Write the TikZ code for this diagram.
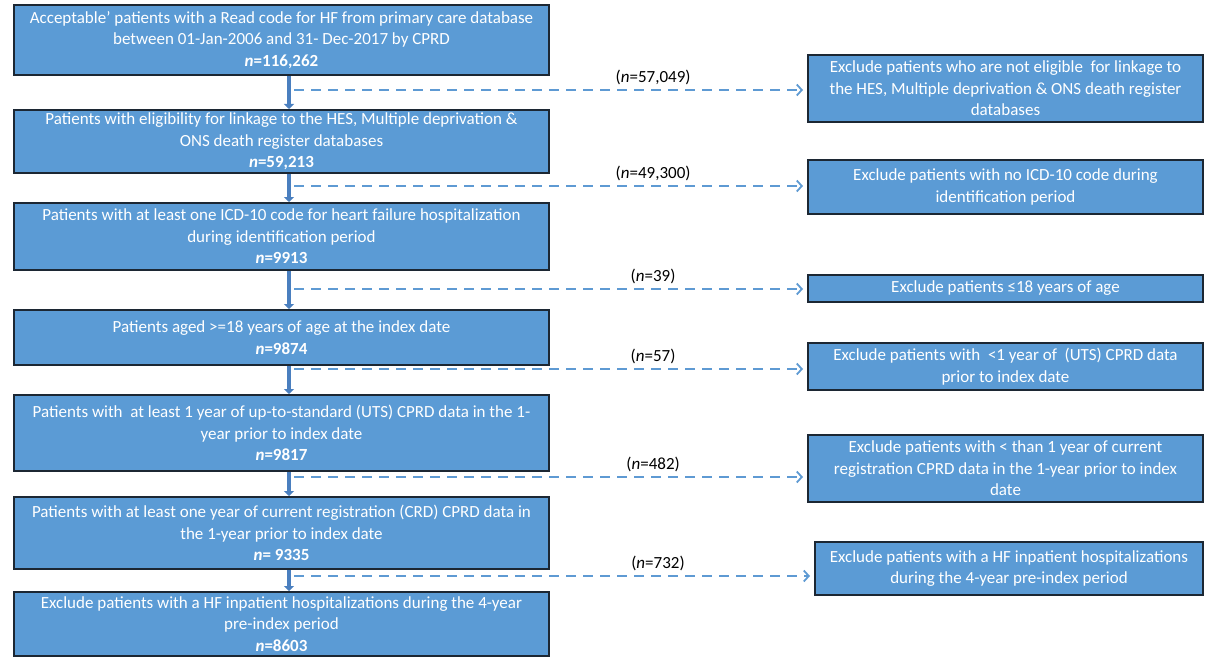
\documentclass[tikz,border=0pt]{standalone}
\usepackage{fontspec}
\setmainfont{Carlito}
\usetikzlibrary{arrows.meta}

\definecolor{boxblue}{HTML}{5B9BD5}
\definecolor{boxline}{HTML}{1C2733}
\definecolor{flowblue}{HTML}{4A7FBF}
\definecolor{dropblue}{HTML}{5E9AD3}

\tikzset{
  stagebox/.style={draw=boxline, line width=2pt, fill=boxblue, text=white,
    align=center, inner sep=0pt, font=\fontsize{17}{21.5}\selectfont},
  exclbox/.style={stagebox},
  flow/.style={draw=flowblue, line width=4pt,
    -{Triangle[width=10pt,length=5pt]}},
  drop/.style={draw=dropblue, line width=2pt, dash pattern=on 10pt off 7pt,
    -{Straight Barb[length=5pt,width=11pt,line width=1.8pt]}, shorten >=4pt},
  count/.style={font=\fontsize{17}{20}\selectfont, text=black}
}

\begin{document}
\begin{tikzpicture}[x=1pt,y=-1pt]
\useasboundingbox (0,0) rectangle (1208,658);
\coordinate (spine) at (289,0);

% stages
\node[stagebox, minimum width=535pt, minimum height=70pt] (b1) at (281.5,40)
  {Acceptable' patients with a Read code for HF from primary care database\\
   between 01-Jan-2006 and 31- Dec-2017 by CPRD\\
   \textbf{\textit{n}=116,262}};
\node[stagebox, minimum width=535pt, minimum height=63pt] (b2) at (281.5,141.5)
  {Patients with eligibility for linkage to the HES, Multiple deprivation \&\\
   ONS death register databases\\
   \textbf{\textit{n}=59,213}};
\node[stagebox, minimum width=535pt, minimum height=67pt] (b3) at (281.5,236.5)
  {Patients with at least one ICD-10 code for heart failure hospitalization\\
   during identification period\\
   \textbf{\textit{n}=9913}};
\node[stagebox, minimum width=535pt, minimum height=55pt] (b4) at (281.5,337.5)
  {Patients aged >=18 years of age at the index date\\
   \textbf{\textit{n}=9874}};
\node[stagebox, minimum width=535pt, minimum height=76pt] (b5) at (281.5,433)
  {Patients with\ \ at least 1 year of up-to-standard (UTS) CPRD data in the 1-\\
   year prior to index date\\
   \textbf{\textit{n}=9817}};
\node[stagebox, minimum width=535pt, minimum height=72pt] (b6) at (281.5,533)
  {Patients with at least one year of current registration (CRD) CPRD data in\\
   the 1-year prior to index date\\
   \textbf{\textit{n}= 9335}};
\node[stagebox, minimum width=535pt, minimum height=64pt] (b7) at (281.5,624)
  {Exclude patients with a HF inpatient hospitalizations during the 4-year\\
   pre-index period\\
   \textbf{\textit{n}=8603}};

% exclusions
\node[exclbox, minimum width=395pt, minimum height=67pt] (x1) at (1005.5,88.5)
  {Exclude patients who are not eligible\ \ for linkage to\\
   the HES, Multiple deprivation \& ONS death register\\
   databases};
\node[exclbox, minimum width=395pt, minimum height=54pt] (x2) at (1005.5,187)
  {Exclude patients with no ICD-10 code during\\
   identification period};
\node[exclbox, minimum width=395pt, minimum height=27pt] (x3) at (1005.5,288.5)
  {Exclude patients ≤18 years of age};
\node[exclbox, minimum width=395pt, minimum height=47pt] (x4) at (1005.5,366.5)
  {Exclude patients with\ \ <1 year of\ \ (UTS) CPRD data\\
   prior to index date};
\node[exclbox, minimum width=395pt, minimum height=67pt] (x5) at (1005.5,468.5)
  {Exclude patients with < than 1 year of current\\
   registration CPRD data in the 1-year prior to index\\
   date};
\node[exclbox, minimum width=388pt, minimum height=53pt] (x6) at (1009,568.5)
  {Exclude patients with a HF inpatient hospitalizations\\
   during the 4-year pre-index period};

\foreach \i/\j in {1/2,2/3,3/4,4/5,5/6,6/7}
  \draw[flow] (b\i.south -| spine) -- (b\j.north -| spine);

\foreach \k/\dy/\m in {1/90/{57,049},2/186/{49,300},3/289/{39},4/369/{57},5/477/{482},6/576/{732}}
{
  \coordinate (d\k) at (294,\dy);
  \draw[drop] (d\k) -- (d\k -| x\k.west)
    node[count, above=1pt, pos=0.7] (c\k) {(\textit{n}=\m)};
}
\end{tikzpicture}
\end{document}
